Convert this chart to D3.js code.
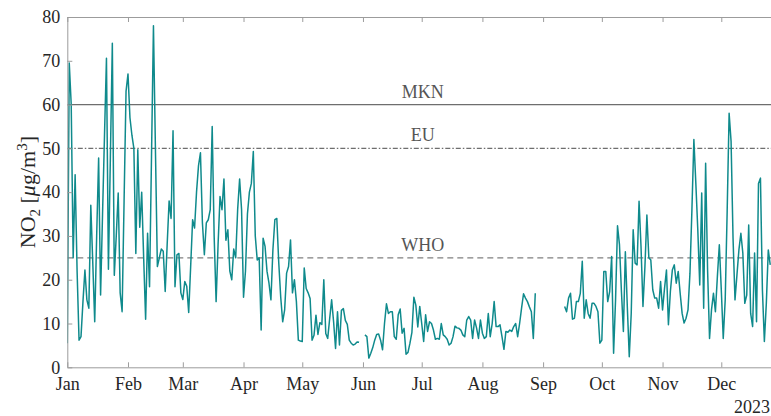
<!DOCTYPE html>
<html>
<head>
<meta charset="utf-8">
<script src="https://cdn.jsdelivr.net/npm/d3@7"></script>
<style>
  html, body { margin: 0; padding: 0; background: #fff; overflow: hidden; }
  svg { display: block; font-family: "Liberation Serif", "DejaVu Serif", serif; }
</style>
</head>
<body>
<svg id="chart" width="771" height="416"></svg>
<script>
// Daily mean NO2 concentration (µg/m³), one array per month; null = no measurement
const year = 2023;
const monthNames = ["Jan", "Feb", "Mar", "Apr", "May", "Jun", "Jul", "Aug", "Sep", "Oct", "Nov", "Dec"];

const jan = [5.5, 69.5, 60, 25, 44, 22, 6.2, 7, 15, 22.2, 15.4, 13.5, 37, 24, 10.4, 30, 47.8, 16.5, 35, 53,
             70.6, 22.4, 48, 74, 21, 30, 39.8, 17, 12.7, 38, 63];
const feb = [67, 57, 53, 50, 26, 49.7, 32, 40, 25, 11, 30.6, 18.4, 48, 78, 50, 23, 25, 27, 26.5, 17.3,
             28, 38, 34, 54, 18.4, 25.7, 26, 17];
const mar = [15.5, 19.6, 18.5, 12.5, 23, 33.7, 31.8, 40, 46, 49, 33, 25.7, 33, 33.7, 36, 55, 30, 15, 28, 39,
             36, 43, 29, 31.4, 22, 20, 27, 25, 36, 43, 36];
const apr = [16, 22, 35, 40, 42, 49.3, 30, 24.5, 25, 8.5, 29.5, 27.6, 21.9, 19.2, 15.4, 26.8, 33.7, 34, 23.8, 16,
             10.4, 13.1, 21.5, 23, 29.1, 17, 20, 15, 6.2, 6];
const may = [5.9, 22.7, 18, 17, 15.7, 6.2, 7.3, 11.9, 7.5, 10.2, 9.8, 20, 7.7, 6.6, 11.1, 15.4, 10.4, 4.3, 12.7, 5.1,
             13, 13.4, 10.7, 9.8, 6.2, 5.5, 5.1, 5.3, 5.8, 5.7, null];
const jun = [null, 7.4, 7, 2.1, 3.2, 4.5, 6.2, 7.5, 7.6, 6.2, 4, 10, 14.5, 12.3, 12.7, 12.7, 7, 6.4, 12, 13.3,
             7.8, 8.9, 3, 3.4, 5.5, 8, 16, 14.2, 9.2, 13.9];
const jul = [10, 5.9, 12, 8.2, 10.4, 10, 8.5, 6.4, 6.6, 6.4, 10, 7.4, 7, 6.4, 5.1, 5.5, 7, 9.4, 9, 8.9,
             8.5, 7.4, 7, 10.8, 11.6, 10.8, 6.6, 10.8, 9, 6.6, 10.8];
const aug = [7.8, 6.6, 7, 12.3, 7, 10, 15, 9.3, 9.3, 9.7, 7, 4.1, 8.2, 8, 8.5, 8.2, 9.3, 10, 7, 10,
             13.5, 16.8, 15.8, 15, 13.8, 12.7, 6.6, 16.9, null, null, null];
const sep = [null, null, null, null, null, null, null, null, null, null, null, 13.9, 12.7, 15.8, 16.9, 11, 11.2, 15, 15, 16.9,
             24.2, 11.2, 15.4, 12.3, 11.2, 14.6, 14.6, 13.9, 12.7, 5.5];
const oct = [6.2, 21.9, 21.9, 15, 17.3, 25.3, 3.2, 15.4, 32.3, 28, 17.3, 8.2, 26.4, 13.9, 2.4, 12.3, 31.4, 23.8, 23.4, 37.9,
             27.6, 13.9, 23, 34.8, 25, 24.5, 17.7, 15.8, 15.8, 13.5, 19.6];
const nov = [13.1, 18, 22.2, 9.7, 17.3, 22.2, 23.4, 19.2, 21.9, 16.9, 12.3, 10.1, 11.2, 13.1, 21.5, 36, 52, 42, 31.4, 18.8,
             39.8, 13.5, 46.6, 22.2, 6.6, 13.1, 16.9, 12.7, 20.7, 28];
const dec = [17.7, 6.6, 15.4, 35.6, 58, 51.6, 29.5, 15.4, 21.1, 26.8, 30.6, 26.1, 14.6, 16.5, 32.5, 12.3, 9.3, 26.1, 10.4, 42,
             43.2, 17.7, 5.9, 14.6, 26.8, 23.4];

// Limit values: national (MKN), EU and WHO guideline
const limitNames = ["MKN", "EU", "WHO"];
const limitValues = [60, 50, 25];

const yTicks = [0, 10, 20, 30, 40, 50, 60, 70, 80];

// ---- assemble the daily series ----
const months = [jan, feb, mar, apr, may, jun, jul, aug, sep, oct, nov, dec];
const series = [];
months.forEach((vals, m) => {
  vals.forEach((v, i) => series.push({ date: new Date(year, m, i + 1), value: v }));
});

// ---- layout ----
const svg = d3.select("#chart");
const plotLeft = 67.3, plotRight = 772.2, plotTop = 17, plotBottom = 367.3;
const axisColor = "#9c9c9c";
const textColor = "#262626";

const x = d3.scaleTime()
  .domain([new Date(year, 0, 1), new Date(year, 11, 27)])
  .range([plotLeft, plotRight]);
const y = d3.scaleLinear().domain([0, 80]).range([plotBottom, plotTop]);

svg.append("defs").append("clipPath").attr("id", "plotClip")
  .append("rect").attr("x", plotLeft).attr("y", plotTop - 1)
  .attr("width", plotRight - plotLeft).attr("height", plotBottom - plotTop + 2);

// ---- limit lines ----
const limitDash = { MKN: null, EU: "5,2,1.5,2", WHO: "6,4" };
const limitStroke = { MKN: "#6e6e6e", EU: "#6e6e6e", WHO: "#808080" };
const gLim = svg.append("g").attr("clip-path", "url(#plotClip)");
limitNames.forEach((name, i) => {
  gLim.append("line")
    .attr("x1", plotLeft).attr("x2", plotRight)
    .attr("y1", y(limitValues[i])).attr("y2", y(limitValues[i]))
    .attr("stroke", limitStroke[name]).attr("stroke-width", 1.1)
    .attr("stroke-dasharray", limitDash[name]);
  svg.append("text")
    .attr("x", (plotLeft + plotRight) / 2 + 3).attr("y", y(limitValues[i]) - 7)
    .attr("text-anchor", "middle").attr("font-size", 18).attr("fill", "#555")
    .text(name);
});

// ---- data line ----
const line = d3.line()
  .defined(d => d.value != null)
  .x(d => x(d.date)).y(d => y(d.value));
svg.append("path")
  .datum(series)
  .attr("clip-path", "url(#plotClip)")
  .attr("fill", "none")
  .attr("stroke", "#0f8a8c")
  .attr("stroke-width", 1.5)
  .attr("stroke-linejoin", "round")
  .attr("d", line);

// ---- axes ----
const monthStarts = d3.range(12).map(m => new Date(year, m, 1));
const fmt = d => monthNames[d.getMonth()];

function styleAxis(g) {
  g.selectAll(".domain").attr("stroke", axisColor).attr("stroke-width", 1);
  g.selectAll(".tick line").attr("stroke", axisColor).attr("stroke-width", 1);
  g.selectAll(".tick text").attr("fill", textColor).attr("font-size", 18)
    .attr("font-family", "Liberation Serif, DejaVu Serif, serif");
}

const gx = svg.append("g").attr("transform", `translate(0,${plotBottom})`)
  .call(d3.axisBottom(x).tickValues(monthStarts).tickFormat(fmt)
    .tickSize(-5).tickSizeOuter(0).tickPadding(10));
styleAxis(gx);

const gxTop = svg.append("g").attr("transform", `translate(0,${plotTop})`)
  .call(d3.axisTop(x).tickValues(monthStarts).tickFormat("")
    .tickSize(-5).tickSizeOuter(0));
styleAxis(gxTop);

const gy = svg.append("g").attr("transform", `translate(${plotLeft},0)`)
  .call(d3.axisLeft(y).tickValues(yTicks).tickSize(-5).tickSizeOuter(0).tickPadding(7));
styleAxis(gy);

// year marker under the last month
svg.append("text")
  .attr("x", 770).attr("y", 413)
  .attr("text-anchor", "end").attr("font-size", 18).attr("fill", textColor)
  .text(String(year));

// ---- y axis title ----
const yl = svg.append("text")
  .attr("transform", `translate(35,${(plotTop + plotBottom) / 2}) rotate(-90)`)
  .attr("text-anchor", "middle").attr("font-size", 22).attr("fill", textColor);
yl.append("tspan").text("NO");
yl.append("tspan").attr("font-size", 15).attr("dy", 5).text("2");
yl.append("tspan").attr("dy", -5).text(" [");
yl.append("tspan").attr("font-style", "italic").text("μ");
yl.append("tspan").text("g/m");
yl.append("tspan").attr("font-size", 15).attr("dy", -8).text("3");
yl.append("tspan").attr("dy", 8).text("]");
</script>
</body>
</html>
